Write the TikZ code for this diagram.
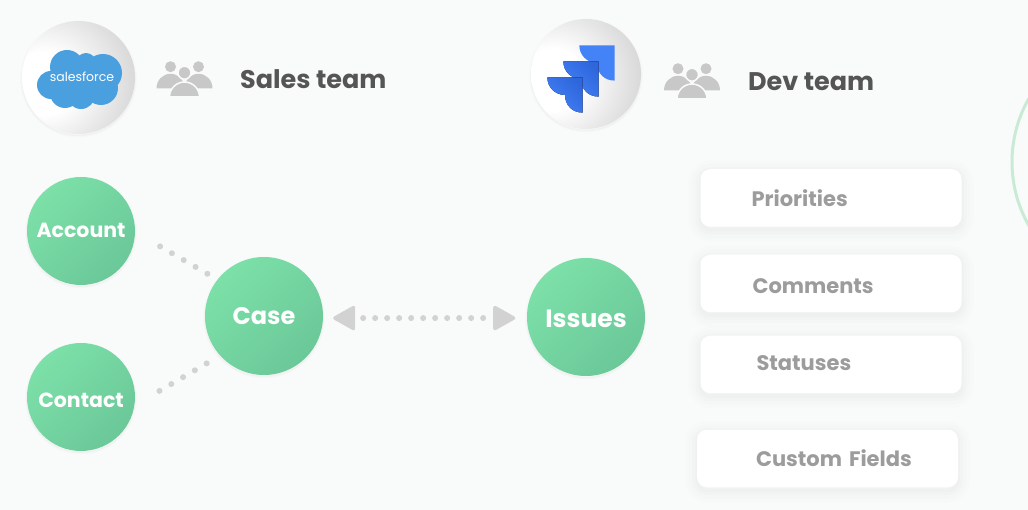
\documentclass[tikz,border=0pt]{standalone}
\usepackage{fontspec}
\setmainfont{Poppins}
\usetikzlibrary{arrows.meta}
\definecolor{pagebg}{HTML}{F9FBFA}
\definecolor{greentop}{HTML}{7CE0A8}
\definecolor{greenlow}{HTML}{6BC899}
\definecolor{dotgrey}{HTML}{D2D2D2}
\definecolor{peoplegrey}{HTML}{C8C8C8}
\definecolor{titlegrey}{HTML}{555555}
\definecolor{fieldgrey}{HTML}{9C9C9C}
\definecolor{sfblue}{HTML}{4A9FDF}
\definecolor{jirablue}{HTML}{4382F7}
\definecolor{jiradark}{HTML}{2F66DC}
\definecolor{ringgreen}{HTML}{C9EBD6}
\pgfdeclareradialshading{ballgrey}{\pgfpoint{-18bp}{-3bp}}{
  color(0bp)=(white); color(14bp)=(white); color(38bp)=(black!16);
  color(60bp)=(black!32); color(72bp)=(black!36); color(100bp)=(black!36)}
\tikzset{
  softshadow/.style={
    preaction={draw=black,draw opacity=.012,line width=4pt,transform canvas={yshift=-1.5pt}},
    preaction={draw=black,draw opacity=.025,line width=1.5pt,transform canvas={yshift=-1.5pt}}},
  wideshadow/.style={
    preaction={draw=black,draw opacity=.006,line width=24pt,transform canvas={yshift=-3pt}},
    preaction={draw=black,draw opacity=.008,line width=17pt,transform canvas={yshift=-3pt}},
    preaction={draw=black,draw opacity=.01,line width=10pt,transform canvas={yshift=-3pt}},
    preaction={draw=black,draw opacity=.012,line width=4pt,transform canvas={yshift=-3pt}}},
  ball/.style={circle,minimum size=#1,inner sep=0pt,shading=ballgrey,softshadow},
  entity/.style={circle,minimum size=#1,inner sep=0pt,text=white,
    left color=greentop,right color=greenlow,shading angle=45,softshadow},
  teamlabel/.style={anchor=west,inner sep=0pt,text=titlegrey,font=\fontsize{25.5}{28}\selectfont\bfseries},
  fieldbox/.style={rectangle,rounded corners=10pt,fill=white,text=fieldgrey,
    font=\fontsize{21}{24}\selectfont\bfseries,minimum height=57.5pt,text width=261pt,
    inner xsep=0pt,inner ysep=0pt,align=left,wideshadow},
  dotline/.style={draw=dotgrey,line width=6pt,line cap=round,dash pattern=on 0pt off #1},
  tipline/.style={draw=dotgrey,line width=1pt,dash pattern=on 0pt off 600pt},
  bigtip/.tip={Triangle[length=24pt,width=26pt,round,line width=3.5pt,line join=round]},
  people/.pic={
    \fill[peoplegrey] (-28,-8.7) arc (180:360:14 and 14.5) -- cycle;
    \fill[peoplegrey] (0,-8.7) arc (180:360:14 and 14.5) -- cycle;
    \fill[peoplegrey] (-14,-30.3) circle (5.5);
    \fill[peoplegrey] (14,-30.3) circle (5.5);
    \filldraw[peoplegrey,draw=pagebg,line width=1.5pt] (0,-24.3) circle (6.5);
    \filldraw[peoplegrey,draw=pagebg,line width=1.5pt] (-15,0) arc (180:360:15) -- cycle;
  },
  leaf/.pic={
    \fill[pic actions] (0,0) -- (35.3,0) -- (35.3,35.3)
      .. controls (25,35.3) and (17.7,28) .. (17.7,17.7)
      .. controls (8,17.7) and (0,10) .. (0,0) -- cycle;
  },
}
\begin{document}
\begin{tikzpicture}[x=1pt,y=-1pt]
  \useasboundingbox (0,0) rectangle (1028,510);
  \fill[pagebg] (0,0) rectangle (1028,510);

  \draw[ringgreen,line width=3pt] (1140,162) circle (128);

  \node[ball=113pt] (sfball) at (78.5,77.5) {};
  \fill[sfblue] (67,67) circle (17) (86,63) circle (10) (103,73) circle (19)
    (51,85) circle (14) (65,93) circle (15) (81,95) circle (14) (101,88) circle (17)
    (80,80) circle (22);
  \node[text=white,inner sep=0pt,font=\fontsize{12.5}{14}\selectfont] (sfname) at (82,77) {salesforce};
  \pic at (184.5,97) {people};
  \node[teamlabel] (salesteam) at (240,79) {Sales team};

  \node[ball=110pt] (jiraball) at (586,74) {};
  \pic[fill=jirablue] at (579.3,45.3) {leaf};
  \pic[left color=jirablue,middle color=jirablue,right color=jiradark,shading angle=135] at (563.3,61.3) {leaf};
  \pic[left color=jirablue,middle color=jirablue,right color=jiradark,shading angle=135] at (547.3,77.3) {leaf};
  \pic at (692,99) {people};
  \node[teamlabel] (devteam) at (748,82) {Dev team};

  \node[entity=108pt,font=\fontsize{20.5}{22}\selectfont\bfseries] (account) at (81,231) {\raisebox{1pt}[\height][\depth]{Account}};
  \node[entity=108pt,font=\fontsize{20.5}{22}\selectfont\bfseries] (contact) at (81,397) {\raisebox{-3pt}[\height][\depth]{Contact}};
  \node[entity=118pt,font=\fontsize{24}{26}\selectfont\bfseries] (case) at (264,316) {Case};
  \node[entity=118pt,font=\fontsize{25}{26}\selectfont\bfseries] (issues) at (586,317) {\raisebox{-2pt}[\height][\depth]{Issues}};

  \draw[dotline=13.65pt,shorten <=28.8pt,shorten >=11.5pt] (account.-1.5) -- (case.142);
  \draw[dotline=13.65pt,shorten <=28.9pt,shorten >=15pt] (contact.-9) -- (case.222);
  \draw[dotline=12pt,shorten <=40pt,shorten >=43pt] (case.-2.4) -- (issues.181.4);
  \draw[tipline,{bigtip}-{bigtip},shorten <=10pt,shorten >=11.5pt] (case.-2.4) -- (issues.181.4);

  \node[fieldbox] (priorities) at (831,198) {\hspace*{51pt}Priorities};
  \node[fieldbox] (comments) at (831,283.5) {\hspace*{52pt}\raisebox{-2.5pt}[\height][\depth]{Comments}};
  \node[fieldbox] (statuses) at (831,364.5) {\hspace*{56pt}\raisebox{1pt}[\height][\depth]{Statuses}};
  \node[fieldbox] (customfields) at (827.5,458.5) {\hspace*{59pt}Custom Fields};
\end{tikzpicture}
\end{document}
